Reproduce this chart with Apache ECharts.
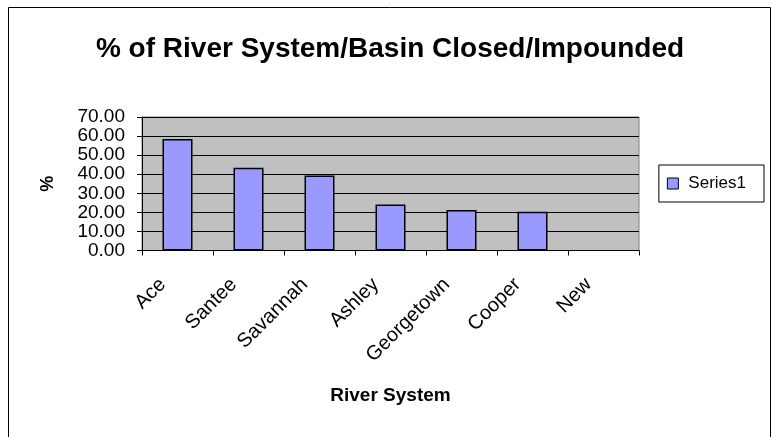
<!DOCTYPE html>
<html><head><meta charset="utf-8">
<script src="https://cdn.jsdelivr.net/npm/echarts@6/dist/echarts.min.js"></script>
<style>html,body{margin:0;padding:0;background:#fff}#c{width:772px;height:437px}</style>
</head><body><div id="c"></div>
<script>
const categories = ['Ace','Santee','Savannah','Ashley','Georgetown','Cooper','New'];
const values = [58.5, 43.4, 39.3, 24.1, 21.3, 20.3, 0];
const yTicks = {min: 0, max: 70, interval: 10};
const seriesName = 'Series1';

const chart = echarts.init(document.getElementById('c'), null, {renderer: 'canvas'});
const F = 'Arial, "Liberation Sans", sans-serif';
chart.setOption({
  animation: false,
  backgroundColor: '#fff',
  title: {
    text: '% of River System/Basin Closed/Impounded',
    left: 385, top: 30, textAlign: 'center',
    textStyle: {fontFamily: F, fontSize: 28, fontWeight: 'bold', color: '#000'}
  },
  legend: {
    data: [seriesName], right: 8, top: 165, orient: 'vertical',
    itemWidth: 11, itemHeight: 11,
    padding: [10, 18, 10, 8],
    borderColor: '#000', borderWidth: 1,
    textStyle: {fontFamily: F, fontSize: 17, color: '#000', padding: [0, 0, 0, 5]},
    icon: 'rect',
    itemStyle: {borderColor: '#000', borderWidth: 1}
  },
  grid: {left: 142, right: 133, top: 117, bottom: 186.5, show: true,
         backgroundColor: '#C0C0C0', borderColor: '#808080', borderWidth: 1},
  xAxis: {
    type: 'category', data: categories,
    name: 'River System', nameLocation: 'middle', nameGap: 136,
    nameTextStyle: {fontFamily: F, fontSize: 19, fontWeight: 'bold', color: '#000'},
    axisLine: {lineStyle: {color: '#000', width: 1}},
    axisTick: {show: true, length: 5, lineStyle: {color: '#000'}},
    axisLabel: {rotate: 45, fontFamily: F, fontSize: 20, color: '#000', margin: 2, interval: 0,
      align: 'right', verticalAlign: 'top', padding: [0, 31, 0, 0]}
  },
  yAxis: {
    type: 'value', min: yTicks.min, max: yTicks.max, interval: yTicks.interval,
    name: '%', nameLocation: 'middle', nameGap: 85, nameRotate: 90,
    nameTextStyle: {fontFamily: F, fontSize: 18, fontWeight: 'bold', color: '#000'},
    axisLine: {show: true, lineStyle: {color: '#000', width: 1}},
    axisTick: {show: true, length: 5, lineStyle: {color: '#000'}},
    splitLine: {show: true, lineStyle: {color: '#000', width: 1}},
    axisLabel: {fontFamily: F, fontSize: 19, color: '#000', margin: 17,
      formatter: v => v.toFixed(2)}
  },
  series: [{
    name: seriesName, type: 'bar', barWidth: 30,
    data: values.map(v => v === 0 ? {value: v, itemStyle: {borderWidth: 0}} : v),
    itemStyle: {color: '#9999FF', borderColor: '#000', borderWidth: 1.5}
  }],
  graphic: [{
    type: 'rect',
    shape: {x: 8.5, y: 7.5, width: 762, height: 440},
    style: {fill: 'none', stroke: '#000', lineWidth: 1}, silent: true, z: 100
  }]
});
</script></body></html>
